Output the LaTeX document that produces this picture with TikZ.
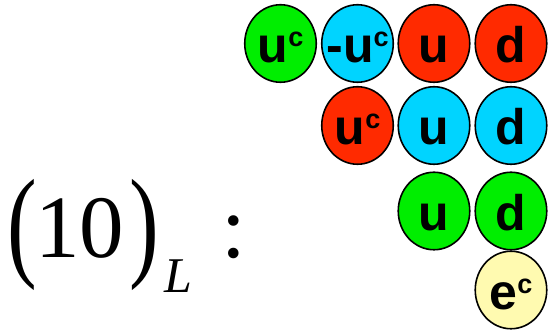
\documentclass[tikz,border=0pt]{standalone}
\usepackage{fontspec}
\setmainfont{Liberation Serif}
\newfontfamily\ballfont{Liberation Sans}
\usetikzlibrary{shapes.geometric}
\definecolor{qGreen}{HTML}{00EE00}
\definecolor{qCyan}{HTML}{00D4FF}
\definecolor{qRed}{HTML}{FF2A00}
\definecolor{qYellow}{HTML}{FFFAB0}
% zero-width label, so the ellipse keeps its size
\newcommand{\bl}[1]{\hbox to 0pt{\hss#1\hss}}
\newcommand{\supc}{\raisebox{16pt}{\fontsize{27}{27}\selectfont c}}

\begin{document}
\begin{tikzpicture}[x=1pt, y=1pt,
  ball/.style={ellipse, draw, line width=1.6pt, fill=#1, inner sep=0pt,
    minimum width=71.5pt, minimum height=77.5pt, text height=39pt, text depth=0pt,
    font=\ballfont\bfseries\fontsize{50}{50}\selectfont},
  big/.style={inner sep=0pt, font=\fontsize{89}{89}\selectfont}
]
\useasboundingbox (0,0) rectangle (550,334);
% columns and rows
\def\xA{280.5} \def\xB{357.5} \def\xC{434} \def\xD{511}
\def\yA{290.5} \def\yB{208.5} \def\yC{123} \def\yD{44}
% first row
\node[ball=qGreen] (r1a) at (\xA,\yA) {\bl{u\supc}};
\node[ball=qCyan]  (r1b) at (\xB,\yA) {\bl{-u\supc}};
\node[ball=qRed]   (r1c) at (\xC,\yA) {\bl{u}};
\node[ball=qRed]   (r1d) at (\xD,\yA) {\bl{d}};
% second row
\node[ball=qRed]   (r2b) at (\xB,\yB) {\bl{u\supc}};
\node[ball=qCyan]  (r2c) at (\xC,\yB) {\bl{u}};
\node[ball=qCyan]  (r2d) at (\xD,\yB) {\bl{d}};
% third row
\node[ball=qGreen] (r3c) at (\xC,\yC) {\bl{u}};
\node[ball=qGreen] (r3d) at (\xD,\yC) {\bl{d}};
% lepton
\node[ball=qYellow] (r4d) at (\xD,\yD) {\bl{e\supc}};
% representation label
\node[big] (lpar) at (22.5,99.5) {\scalebox{1}[1.38]{(}};
\node[big, anchor=base west] (ten) at (35,76) {10};
\node[big] (rpar) at (144.5,99.5) {\scalebox{1}[1.38]{)}};
\node[inner sep=0pt, anchor=base west, font=\fontsize{50}{50}\selectfont\itshape] (sub) at (164,41) {L};
\node[big, anchor=base west] (colon) at (221,76) {:};
\end{tikzpicture}
\end{document}
